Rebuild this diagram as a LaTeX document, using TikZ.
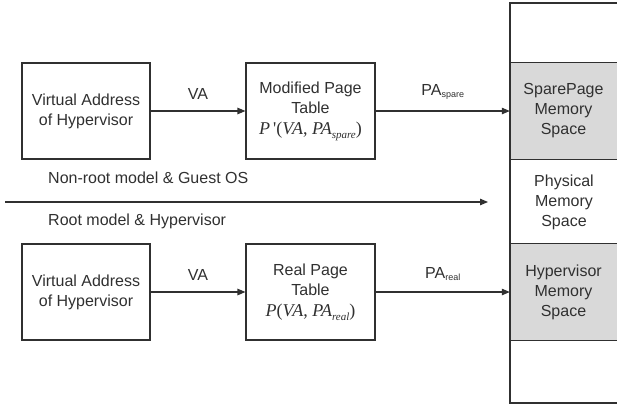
\documentclass[tikz,border=0pt]{standalone}
\usepackage{fontspec}
\setmainfont{Liberation Sans}
\newfontfamily\tnr{Liberation Serif}
\usetikzlibrary{arrows.meta}
\definecolor{ink}{HTML}{303030}
\definecolor{shade}{HTML}{D9D9D9}
\newcommand{\subtxt}[1]{\raisebox{-0.25ex}{\fontsize{9}{9}\selectfont #1}}
\newcommand{\mathsub}[1]{\raisebox{-0.5ex}{\fontsize{11}{11}\selectfont\itshape #1}}
\newcommand{\fml}[1]{{\fontsize{18}{20}\selectfont\tnr #1}}
\begin{document}
\begin{tikzpicture}[x=1pt,y=-1pt,
  every node/.style={text=ink, font=\fontsize{16}{20}\selectfont},
  box/.style={draw=ink, line width=1.1pt, minimum width=128pt, minimum height=96pt, align=center, inner sep=0pt},
  sect/.style={fill=shade, minimum width=107pt, align=center, inner sep=0pt},
  conn/.style={draw=ink, line width=1.1pt, -{Triangle[length=8pt,width=6.5pt]}},
  lbl/.style={inner sep=0pt}
]
\useasboundingbox (0,0) rectangle (617,405);
% left boxes
\node[box] (va1) at (86,111) {Virtual Address\\of Hypervisor};
\node[box] (va2) at (86,292) {Virtual Address\\of Hypervisor};
% page tables
\node[box, minimum width=129pt] (mpt) at (310.5,111) {Modified Page\\Table\\[1pt]\fml{\textit{P}\,'(\textit{VA}, \textit{PA}\mathsub{spare})}};
\node[box, minimum width=129pt] (rpt) at (310.5,292) {Real Page\\Table\\[1pt]\fml{\textit{P}(\textit{VA}, \textit{PA}\mathsub{real})}};
% memory column sections
\node[sect, minimum height=97pt] (spare) at (563.5,111) {SparePage\\Memory\\Space};
\node[inner sep=0pt, align=center] (phys) at (564,202) {Physical\\Memory\\Space};
\node[sect, minimum height=97pt] (hyp) at (563.5,292) {Hypervisor\\Memory\\Space};
\coordinate (ctl) at (510,3);
\coordinate (ctr) at (617,3);
\coordinate (cbl) at (510,403);
\coordinate (cbr) at (617,403);
\draw[ink, line width=1.1pt] (ctr) -- (ctl) -- (cbl) -- (cbr);
\draw[ink, line width=1.1pt] (spare.north west) -- (spare.north east)
  (spare.south west) -- (spare.south east)
  (hyp.north west) -- (hyp.north east)
  (hyp.south west) -- (hyp.south east);
% connectors
\draw[conn] (va1.east) -- node[lbl, above=11pt] (lva1) {VA} (mpt.west);
\draw[conn] (mpt.east) -- node[lbl, above=11pt] (lpa1) {PA\subtxt{spare}} (spare.west);
\draw[conn] (va2.east) -- node[lbl, above=11pt] (lva2) {VA} (rpt.west);
\draw[conn] (rpt.east) -- node[lbl, above=11pt] (lpa2) {PA\subtxt{real}} (hyp.west);
% boundary
\coordinate (bs) at (5,202);
\coordinate (be) at (488,202);
\draw[conn] (bs) -- (be);
\node[lbl, anchor=west] (nonroot) at (48,178) {Non-root model \& Guest OS};
\node[lbl, anchor=west] (root) at (48,221) {Root model \& Hypervisor};
\end{tikzpicture}
\end{document}
